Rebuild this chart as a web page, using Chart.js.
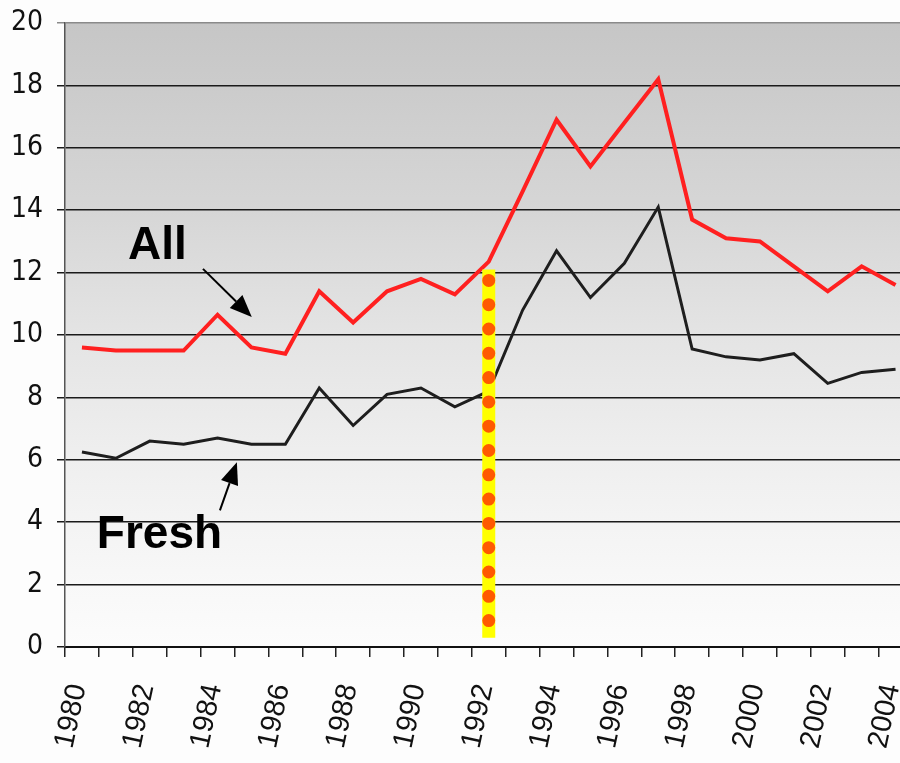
<html>
    <head>
        <meta charset="UTF-8">
        <title>All / Fresh 1980-2004</title>

        <script src="https://cdn.jsdelivr.net/npm/chart.js"></script>

        <style>
            body {
                margin: 0;
                background: #ffffff;
                overflow: hidden;
            }

            .chart_container {
                position: relative;
                width: 920px;
                height: 763px;
            }
        </style>
    </head>

    <body>
        <div class='chart_container'>
            <canvas id='trend'></canvas>
        </div>

        <script>
            // years on the x axis
            const years = ['1980', '1981', '1982', '1983', '1984', '1985', '1986', '1987', '1988',
                '1989', '1990', '1991', '1992', '1993', '1994', '1995', '1996', '1997', '1998',
                '1999', '2000', '2001', '2002', '2003', '2004'];

            // "All" series (red)
            const allValues = [9.6, 9.5, 9.5, 9.5, 10.65, 9.6, 9.4, 11.4, 10.4, 11.4, 11.8, 11.3,
                12.35, 14.6, 16.9, 15.4, 16.8, 18.2, 13.7, 13.1, 13.0, 12.2, 11.4, 12.2, 11.6];

            // "Fresh" series (black)
            const freshValues = [6.25, 6.05, 6.6, 6.5, 6.7, 6.5, 6.5, 8.3, 7.1, 8.1, 8.3, 7.7,
                8.2, 10.8, 12.7, 11.2, 12.3, 14.1, 9.55, 9.3, 9.2, 9.4, 8.45, 8.8, 8.9];

            // yellow marker bar at 1992 and the dotted run inside it
            const markerYear = '1992';
            const markerRange = [12.1, 0.3];
            const markerDots = [11.75, 0.78];

            // y axis
            const yMin = 0;
            const yMax = 20;
            const yStep = 2;

            // text labels with arrows, in axis units (category index, value)
            const notes = [
                { text: 'All', x: 1.36, y: 12.44, from: [3.57, 12.12], to: [5.01, 10.58] },
                { text: 'Fresh', x: 0.44, y: 3.16, from: [4.07, 4.38], to: [4.57, 5.92] }
            ];

            const plotBackground = {
                id: 'plotBackground',
                beforeDraw(chart) {
                    const { ctx, chartArea } = chart;
                    ctx.save();
                    ctx.fillStyle = '#fdfdfd';
                    ctx.fillRect(0, 0, chart.width, chart.height);
                    const g = ctx.createLinearGradient(0, chartArea.top, 0, chartArea.bottom);
                    g.addColorStop(0, '#c6c6c6');
                    g.addColorStop(0.3, '#d6d6d6');
                    g.addColorStop(0.5, '#e4e4e4');
                    g.addColorStop(0.7, '#efefef');
                    g.addColorStop(0.9, '#f8f8f8');
                    g.addColorStop(1, '#fcfcfc');
                    ctx.fillStyle = g;
                    ctx.fillRect(chartArea.left, chartArea.top,
                        chartArea.right - chartArea.left, chartArea.bottom - chartArea.top);
                    ctx.restore();
                }
            };

            const arrowNotes = {
                id: 'arrowNotes',
                afterDatasetsDraw(chart) {
                    const ctx = chart.ctx;
                    const xs = chart.scales.x;
                    const ys = chart.scales.y;
                    ctx.save();
                    ctx.fillStyle = '#000';
                    ctx.strokeStyle = '#000';
                    ctx.font = 'bold 46px "Liberation Sans", Arial, sans-serif';
                    ctx.textBaseline = 'alphabetic';
                    ctx.textAlign = 'left';
                    for (const n of notes) {
                        ctx.fillText(n.text, xs.getPixelForValue(n.x), ys.getPixelForValue(n.y));

                        const x1 = xs.getPixelForValue(n.from[0]);
                        const y1 = ys.getPixelForValue(n.from[1]);
                        const x2 = xs.getPixelForValue(n.to[0]);
                        const y2 = ys.getPixelForValue(n.to[1]);
                        const a = Math.atan2(y2 - y1, x2 - x1);
                        const head = 22;
                        const half = 9;
                        const bx = x2 - head * Math.cos(a);
                        const by = y2 - head * Math.sin(a);

                        ctx.lineWidth = 2;
                        ctx.beginPath();
                        ctx.moveTo(x1, y1);
                        ctx.lineTo(bx, by);
                        ctx.stroke();

                        ctx.beginPath();
                        ctx.moveTo(x2, y2);
                        ctx.lineTo(bx + half * Math.sin(a), by - half * Math.cos(a));
                        ctx.lineTo(bx - half * Math.sin(a), by + half * Math.cos(a));
                        ctx.closePath();
                        ctx.fill();
                    }
                    ctx.restore();
                }
            };

            const data = {
                labels: years,
                datasets: [
                    {
                        label: 'dots',
                        data: markerDots.map(v => ({ x: markerYear, y: v })),
                        borderColor: '#ff5a00',
                        borderWidth: 13,
                        borderDash: [0, 24.3],
                        borderCapStyle: 'round',
                        pointRadius: 0
                    },
                    {
                        label: 'marker',
                        data: markerRange.map(v => ({ x: markerYear, y: v })),
                        borderColor: '#ffff00',
                        borderWidth: 13,
                        borderCapStyle: 'butt',
                        pointRadius: 0
                    },
                    {
                        label: 'All',
                        data: allValues,
                        borderColor: '#ff2020',
                        borderWidth: 4,
                        pointRadius: 0,
                        tension: 0
                    },
                    {
                        label: 'Fresh',
                        data: freshValues,
                        borderColor: '#1e1e1e',
                        borderWidth: 3,
                        pointRadius: 0,
                        tension: 0
                    }
                ]
            };

            const config = {
                type: 'line',
                data: data,
                options: {
                    responsive: true,
                    maintainAspectRatio: false,
                    animation: false,
                    layout: {
                        padding: { top: 23, right: 7.5, left: 0, bottom: 0 }
                    },
                    plugins: {
                        legend: { display: false },
                        tooltip: { enabled: false }
                    },
                    scales: {
                        x: {
                            type: 'category',
                            offset: true,
                            grid: {
                                offset: true,
                                drawOnChartArea: false,
                                color: '#222',
                                lineWidth: 1.5,
                                tickLength: 10
                            },
                            border: { color: '#111', width: 2 },
                            ticks: {
                                autoSkip: false,
                                minRotation: 78,
                                maxRotation: 78,
                                padding: 24,
                                labelOffset: -4,
                                color: '#111',
                                font: { family: '"Liberation Sans", Arial, sans-serif', size: 29 },
                                callback: function (value, index) {
                                    return index % 2 === 0 ? this.getLabelForValue(value) : '';
                                }
                            },
                            afterFit: function (scale) {
                                scale.height = 116;
                                scale.paddingLeft = 0;
                                scale.paddingRight = 0;
                            }
                        },
                        y: {
                            min: yMin,
                            max: yMax,
                            grid: {
                                color: ctx => ctx.tick && ctx.tick.value === yMax ? '#8a8a8a' : '#1a1a1a',
                                lineWidth: 1.5,
                                tickLength: 8
                            },
                            border: { color: '#555', width: 1.5 },
                            ticks: {
                                stepSize: yStep,
                                padding: 14,
                                color: '#111',
                                font: { family: '"Liberation Sans Narrow", "DejaVu Sans Condensed", sans-serif', size: 28 }
                            },
                            afterFit: function (scale) {
                                scale.width = 65;
                                scale.paddingTop = 0;
                                scale.paddingBottom = 0;
                            }
                        }
                    }
                },
                plugins: [plotBackground, arrowNotes]
            };

            new Chart(document.getElementById('trend'), config);
        </script>
    </body>
</html>
